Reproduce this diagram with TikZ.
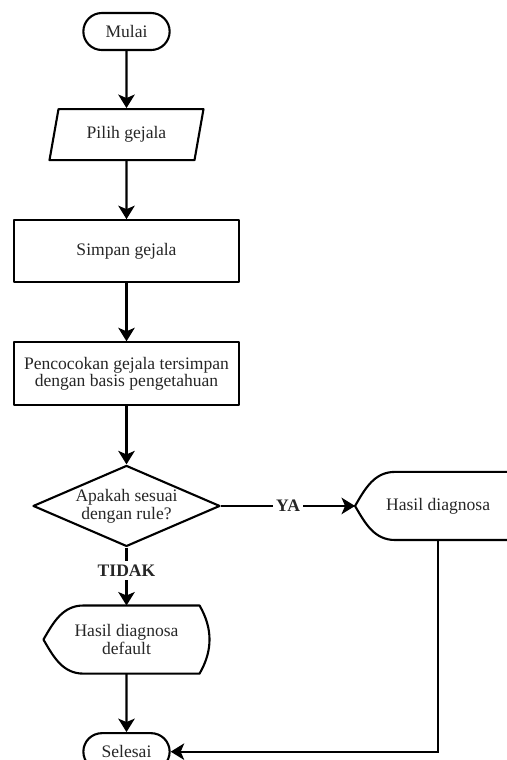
\documentclass[tikz,border=0pt]{standalone}
\usepackage{fontspec}
\setmainfont{Liberation Serif}
\usetikzlibrary{arrows.meta,positioning,shapes.geometric,shapes.misc}
\newcommand{\displayoutline}[1]{%
  \draw[outline] ([xshift=0.8cm]#1.south west) -- ([xshift=-0.2cm]#1.south east)
    to[bend right=30] ([xshift=-0.2cm]#1.north east) -- ([xshift=0.8cm]#1.north west)
    to[out=180,in=60] (#1.west) to[out=-60,in=180] ([xshift=0.8cm]#1.south west) -- cycle;}

\begin{document}
\begin{tikzpicture}[
    outline/.style={line width=1.2pt, line join=round},
    box/.style={draw, outline, align=center, font=\fontsize{10}{9}\selectfont, text=black!85},
    term/.style={box, rounded rectangle, minimum width=1.96cm, minimum height=0.74cm},
    iobox/.style={box, trapezium, trapezium left angle=72, trapezium right angle=108,
      trapezium stretches body, minimum width=3.08cm, minimum height=1.02cm},
    proc/.style={box, minimum width=4.5cm, minimum height=1.24cm},
    decision/.style={box, diamond, aspect=2.3, inner sep=0pt, minimum width=3.74cm, minimum height=1.62cm},
    disp/.style={box, draw=none, minimum width=3.28cm, minimum height=1.32cm, inner sep=0pt},
    lbl/.style={fill=white, font=\bfseries, text=black!85, inner sep=2pt},
    arr/.style={-{Stealth[length=0.27cm, width=0.33cm, inset=0.07cm]}, line width=1.2pt}
  ]
    \useasboundingbox (0,0) rectangle (10.14,-15.2);
    \node[term] (mulai) at (2.53,-0.63) {Mulai};
    \node[iobox, below=1.14cm of mulai] (pilih) {Pilih gejala};
    \node[proc, below=1.16cm of pilih] (simpan) {Simpan gejala};
    \node[proc, minimum height=1.26cm, below=1.16cm of simpan] (cocok) {Pencocokan gejala tersimpan\\dengan basis pengetahuan};
    \node[decision, below=1.16cm of cocok] (cek) {Apakah sesuai\\dengan rule?};
    \node[disp, right=2.68cm of cek] (hasil) {Hasil diagnosa};
    \node[disp, below=1.16cm of cek] (hasildef) {Hasil diagnosa\\default};
    \node[term, below=1.17cm of hasildef] (selesai) {Selesai};
    \displayoutline{hasil}
    \displayoutline{hasildef}
    \draw[arr] (mulai) -- (pilih);
    \draw[arr] (pilih) -- (simpan);
    \draw[arr] (simpan) -- (cocok);
    \draw[arr] (cocok) -- (cek);
    \draw[arr] (cek) -- node[lbl] {YA} (hasil);
    \draw[arr] (cek) -- node[lbl, pos=0.4] {TIDAK} (hasildef);
    \draw[arr] (hasildef) -- (selesai);
    \draw[arr] (hasil.south) |- (selesai.east);
  \end{tikzpicture}
\end{document}
